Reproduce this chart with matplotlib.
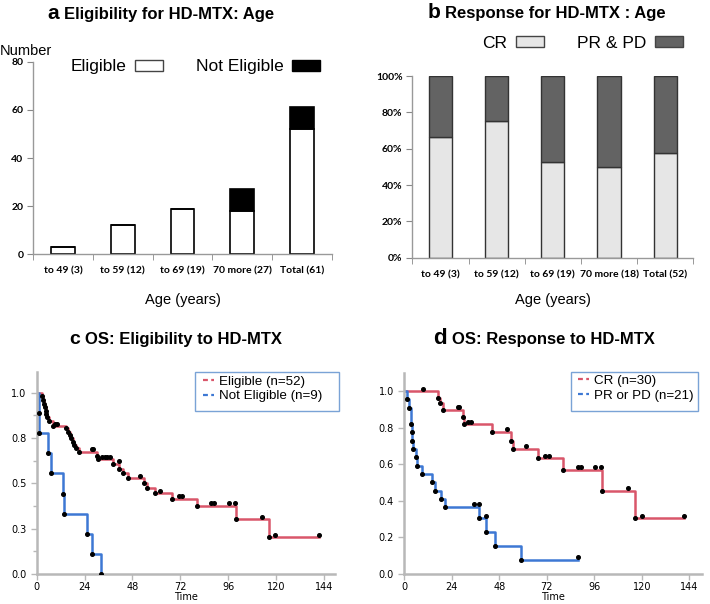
import matplotlib
matplotlib.use("Agg")
import matplotlib.pyplot as plt
from matplotlib.lines import Line2D
from matplotlib.patches import Patch, Rectangle
from matplotlib.ticker import FixedLocator, FixedFormatter, PercentFormatter, MultipleLocator

# ---------------- data ----------------
age_cats_a = ["to 49 (3)", "to 59 (12)", "to 69 (19)", "70 more (27)", "Total (61)"]
eligible = [3, 12, 19, 18, 52]
not_eligible = [0, 0, 0, 9, 9]

age_cats_b = ["to 49 (3)", "to 59 (12)", "to 69 (19)", "70 more (18)", "Total (52)"]
cr_frac = [0.667, 0.75, 0.526, 0.50, 0.577]
prpd_frac = [0.333, 0.25, 0.474, 0.50, 0.423]

# panel c: Eligible (n=52)
elig_t = [0, 2.5, 3.0, 3.8, 4.2, 4.5, 4.8, 5.3, 6.3, 8.0, 14.5, 15.9, 16.7, 17.2, 18.0, 18.7,
          19.7, 21.0, 30.1, 30.6, 38.0, 41.3, 43.1, 46.0, 53.8, 55.1, 59.1, 67.7, 80.3, 99.7, 116.4]
elig_s = [1.0, 0.98, 0.96, 0.94, 0.92, 0.90, 0.885, 0.865, 0.846, 0.816, 0.803, 0.785, 0.767, 0.748,
          0.73, 0.711, 0.693, 0.675, 0.651, 0.632, 0.607, 0.577, 0.555, 0.528, 0.504, 0.472, 0.445,
          0.412, 0.375, 0.302, 0.202]
elig_end = 141.5
elig_cens_t = [9.2, 10.4, 27.6, 28.4, 32.7, 34.0, 35.4, 36.8, 41.3, 51.8, 62.0, 71.2, 73.0,
               87.4, 89.0, 96.4, 99.4, 113.0, 119.5, 141.5]
elig_cens_s = [0.83, 0.83, 0.689, 0.689, 0.645, 0.645, 0.645, 0.645, 0.623, 0.542, 0.459, 0.428,
               0.428, 0.392, 0.392, 0.392, 0.392, 0.316, 0.215, 0.215]

# panel c: Not Eligible (n=9)
nelig_t = [0, 1.2, 1.4, 5.8, 7.2, 13.4, 13.7, 25.0, 27.6, 32.2]
nelig_s = [1.0, 0.889, 0.778, 0.667, 0.556, 0.444, 0.333, 0.222, 0.111, 0.0]

# panel d: CR (n=30)
cr_t = [0, 17.2, 18.0, 19.4, 29.8, 30.3, 44.3, 53.9, 54.9, 67.4, 80.3, 99.9, 116.5]
cr_s = [1.0, 0.964, 0.932, 0.896, 0.86, 0.82, 0.775, 0.728, 0.684, 0.632, 0.568, 0.455, 0.304]
cr_end = 141.6
cr_cens_t = [9.6, 27.3, 27.8, 32.0, 33.5, 51.7, 61.6, 70.9, 72.9, 87.7, 89.4, 96.3, 99.5,
             113.0, 119.9, 141.6]
cr_cens_s = [1.013, 0.911, 0.911, 0.832, 0.832, 0.79, 0.70, 0.647, 0.647, 0.583, 0.583, 0.583,
             0.583, 0.472, 0.319, 0.319]

# panel d: PR or PD (n=21)
pr_t = [0, 1.5, 2.5, 3.4, 3.7, 4.0, 4.5, 5.8, 6.6, 8.8, 14.1, 15.5, 18.5, 20.6, 38.0, 41.4, 45.8, 59.0]
pr_s = [1.0, 0.955, 0.909, 0.82, 0.774, 0.728, 0.683, 0.638, 0.592, 0.546, 0.501, 0.455, 0.41,
        0.364, 0.306, 0.23, 0.155, 0.078]
pr_end = 87.6
pr_cens_t = [35.4, 37.6, 41.1, 87.6]
pr_cens_s = [0.381, 0.381, 0.319, 0.091]

c_ytick_vals = [0.0, 0.25, 0.5, 0.75, 1.0]
c_ytick_labels = ["0.0", "0.3", "0.5", "0.8", "1.0"]
km_xticks = [0, 24, 48, 72, 96, 120, 144]

# ---------------- styling ----------------
W, H = 710, 604
fig = plt.figure(figsize=(W / 100, H / 100), dpi=100)
RED = "#d9566a"
BLUE = "#3d78d4"
SPINE = "#b8b8b8"
LEGBOX = "#7aa3d6"
TFONT = "Liberation Sans"
TICKF = "Lato"


def fx(px):
    return px / W


def fy(py):
    return 1 - py / H


def title(letter, rest, x_letter_right, x_rest_left, py, lsize=15):
    fig.text(fx(x_letter_right), fy(py), letter, ha="right", va="baseline",
             fontsize=lsize, fontweight="bold", family=TFONT)
    fig.text(fx(x_rest_left), fy(py), rest, ha="left", va="baseline",
             fontsize=12, fontweight="bold", family=TFONT)


# ---------------- panel a ----------------
axa = fig.add_axes([fx(33), fy(254.3), fx(332 - 33), (254.3 - 61.7) / H])
xa = list(range(len(age_cats_a)))
axa.bar(xa, eligible, width=0.4, color="white", edgecolor="black", linewidth=1.2, zorder=2)
axa.bar(xa, not_eligible, bottom=eligible, width=0.4, color="black", edgecolor="black",
        linewidth=1.2, zorder=2)
axa.set_xlim(-0.5, 4.5)
axa.set_ylim(0, 80)
axa.set_yticks([0, 20, 40, 60, 80])
axa.set_xticks(xa)
axa.set_xticklabels(age_cats_a)
axa.xaxis.set_minor_locator(FixedLocator([-0.5, 0.5, 1.5, 2.5, 3.5, 4.5]))
axa.tick_params(axis="x", which="major", length=0, pad=9, labelsize=7.5)
axa.tick_params(axis="x", which="minor", length=4, color="#888888")
axa.tick_params(axis="y", length=4, color="#888888", labelsize=7.5, pad=3)
for lab in axa.get_xticklabels() + axa.get_yticklabels():
    lab.set_family(TICKF)
    lab.set_fontweight("bold")
for s in ["top", "right"]:
    axa.spines[s].set_visible(False)
for s in ["left", "bottom"]:
    axa.spines[s].set_color("#999999")
    axa.spines[s].set_linewidth(1.0)
axa.set_xlabel("Age (years)", fontsize=10.5, family=TFONT, labelpad=12)
fig.text(0.0, fy(55), "Number", fontsize=10.5, family=TFONT, ha="left", va="baseline")
leg_a = [Patch(facecolor="white", edgecolor="#444444", label="Eligible"),
         Patch(facecolor="black", edgecolor="black", label="Not Eligible")]
fig.legend(handles=leg_a, loc="center", bbox_to_anchor=(fx(195), fy(67)), ncol=2,
           frameon=False, markerfirst=False, prop={"family": TFONT, "size": 12.5},
           handlelength=1.6, handleheight=0.55, handletextpad=0.5, columnspacing=1.9)
title("a", "Eligibility for HD-MTX: Age", 59, 64, 19)

# ---------------- panel b ----------------
axb = fig.add_axes([fx(412.3), fy(257.7), fx(693.3 - 412.3), (257.7 - 76) / H])
xb = list(range(len(age_cats_b)))
axb.bar(xb, cr_frac, width=0.41, color="#e6e6e6", edgecolor="#333333", linewidth=1.0, zorder=2)
axb.bar(xb, prpd_frac, bottom=cr_frac, width=0.41, color="#636363", edgecolor="#333333",
        linewidth=1.0, zorder=2)
axb.set_xlim(-0.5, 4.5)
axb.set_ylim(0, 1.0)
axb.set_yticks([0, 0.2, 0.4, 0.6, 0.8, 1.0])
axb.yaxis.set_major_formatter(PercentFormatter(1.0, decimals=0))
axb.set_xticks(xb)
axb.set_xticklabels(age_cats_b)
axb.xaxis.set_minor_locator(FixedLocator([-0.5, 0.5, 1.5, 2.5, 3.5, 4.5]))
axb.tick_params(axis="x", which="major", length=0, pad=9, labelsize=7.5)
axb.tick_params(axis="x", which="minor", length=4, color="#888888")
axb.tick_params(axis="y", length=4, color="#888888", labelsize=7.5, pad=3)
for lab in axb.get_xticklabels() + axb.get_yticklabels():
    lab.set_family(TICKF)
    lab.set_fontweight("bold")
for s in ["top", "right"]:
    axb.spines[s].set_visible(False)
for s in ["left", "bottom"]:
    axb.spines[s].set_color("#999999")
    axb.spines[s].set_linewidth(1.0)
axb.set_xlabel("Age (years)", fontsize=10.5, family=TFONT, labelpad=10)
leg_b = [Patch(facecolor="#e6e6e6", edgecolor="#444444", label="CR"),
         Patch(facecolor="#636363", edgecolor="#444444", label="PR & PD")]
fig.legend(handles=leg_b, loc="center", bbox_to_anchor=(fx(582.5), fy(43)), ncol=2,
           frameon=False, markerfirst=False, prop={"family": TFONT, "size": 12.5},
           handlelength=1.6, handleheight=0.55, handletextpad=0.5, columnspacing=1.9)
title("b", "Response for HD-MTX : Age", 440, 445, 18.3)


# ---------------- KM panels ----------------
def km_axes(rect, ymax):
    ax = fig.add_axes(rect)
    ax.set_ylim(0, ymax)
    ax.set_xticks(km_xticks)
    for s in ["top", "right"]:
        ax.spines[s].set_visible(False)
    for s in ["left", "bottom"]:
        ax.spines[s].set_color(SPINE)
        ax.spines[s].set_linewidth(1.8)
    ax.tick_params(axis="both", which="both", color=SPINE, labelsize=7, width=1)
    ax.tick_params(axis="both", which="major", length=4)
    ax.tick_params(axis="x", which="major", pad=2)
    ax.tick_params(axis="y", which="minor", length=3)
    ax.set_xlabel("Time", fontsize=7, labelpad=0)
    return ax


def draw_km(ax, t, s, end, color, cens_t=None, cens_s=None):
    tt = list(t) + ([end] if end is not None else [])
    ss = list(s) + ([s[-1]] if end is not None else [])
    ax.step(tt, ss, where="post", color=color, linewidth=1.8, zorder=2)
    ax.plot(t[1:], s[1:], "o", color="black", markersize=2.6, zorder=3)
    if cens_t:
        ax.plot(cens_t, cens_s, "o", color="black", markersize=2.6, zorder=3)


def km_legend(handles, box_px, text_left_px):
    x0, y0, x1, y1 = box_px
    fig.patches.append(Rectangle((fx(x0), fy(y1)), fx(x1 - x0), (y1 - y0) / H,
                                 transform=fig.transFigure, facecolor="white",
                                 edgecolor=LEGBOX, linewidth=1.0, zorder=5))
    leg = fig.legend(handles=handles, loc="upper left", bbox_to_anchor=(fx(text_left_px), fy(y0 + 3)),
                     frameon=False, prop={"family": TFONT, "size": 9.6},
                     handlelength=0.8, handletextpad=0.4, borderpad=0.0, labelspacing=0.18,
                     borderaxespad=0)
    leg.set_zorder(6)
    return leg


# panel c
axc = km_axes([fx(36.7), fy(574), fx(335 - 36.7), (574 - 371.7) / H], 1.116)
axc.set_xlim(0, 149.5)
axc.yaxis.set_major_locator(FixedLocator(c_ytick_vals))
axc.yaxis.set_major_formatter(FixedFormatter(c_ytick_labels))
axc.yaxis.set_minor_locator(MultipleLocator(0.125))
draw_km(axc, elig_t, elig_s, elig_end, RED, elig_cens_t, elig_cens_s)
draw_km(axc, nelig_t, nelig_s, None, BLUE)
leg_c = [Line2D([0], [0], color=RED, linestyle=(0, (2.2, 1.5)), linewidth=1.6, label="Eligible (n=52)"),
         Line2D([0], [0], color=BLUE, linestyle=(0, (2.2, 1.5)), linewidth=1.6, label="Not Eligible (n=9)")]
km_legend(leg_c, (195, 372.3, 339.3, 410.7), 203)
title("c", "OS: Eligibility to HD-MTX", 80, 85, 344.3, lsize=14)

# panel d
axd = km_axes([fx(404.3), fy(574), fx(701.7 - 404.3), (574 - 372.7) / H], 1.10)
axd.set_xlim(0, 150.3)
axd.set_yticks([0, 0.2, 0.4, 0.6, 0.8, 1.0])
axd.yaxis.set_major_formatter(FixedFormatter(["0.0", "0.2", "0.4", "0.6", "0.8", "1.0"]))
draw_km(axd, cr_t, cr_s, cr_end, RED, cr_cens_t, cr_cens_s)
draw_km(axd, pr_t, pr_s, pr_end, BLUE, pr_cens_t, pr_cens_s)
leg_d = [Line2D([0], [0], color=RED, linestyle=(0, (2.2, 1.5)), linewidth=1.6, label="CR (n=30)"),
         Line2D([0], [0], color=BLUE, linestyle=(0, (2.2, 1.5)), linewidth=1.6, label="PR or PD (n=21)")]
km_legend(leg_d, (571, 371.7, 698.3, 411), 578)
title("d", "OS: Response to HD-MTX", 446.7, 451.7, 344.3, lsize=16)

fig.savefig("out.png", dpi=100)
